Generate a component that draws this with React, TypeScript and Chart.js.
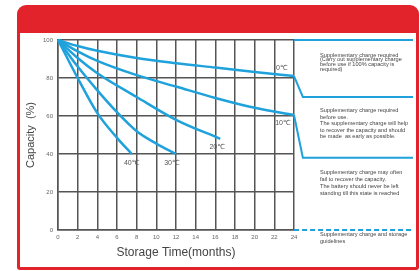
import React, { useEffect, useRef } from 'react';
import { Chart, registerables } from 'chart.js';

Chart.register(...registerables);

// ---- data ----
const MONTHS_0C = [0, 2, 4, 8, 12, 16, 20, 24];
const CAP_0C = [100, 96.8, 94.3, 90.5, 87.8, 85.5, 83.2, 81];
const MONTHS_10C = [0, 2, 4, 8, 12, 16, 20, 24];
const CAP_10C = [100, 94, 89, 81.5, 75.5, 69.5, 64.3, 60.5];
const MONTHS_20C = [0, 2, 4, 8, 12, 16.5];
const CAP_20C = [100, 90.5, 82.5, 70, 58, 48];
const MONTHS_30C = [0, 2, 4, 6, 8, 10, 12];
const CAP_30C = [100, 86, 73.5, 62, 52, 45.5, 40];
const MONTHS_40C = [0, 2, 4, 6, 7.5];
const CAP_40C = [100, 80, 61.5, 48.5, 40];
const CURVE_LABELS = ['0℃', '10℃', '20℃', '30℃', '40℃'];

const TAIL_0C_X = [24, 24.9, 36.1];
const TAIL_0C_Y = [81, 70, 70];
const TAIL_10C_X = [24, 24.9, 36.1];
const TAIL_10C_Y = [60.5, 38, 38];
const GUIDE_TOP_X = [24, 36.1];
const GUIDE_TOP_Y = [100, 100];
const GUIDE_BOTTOM_X = [24, 36.1];
const GUIDE_BOTTOM_Y = [0, 0];

const X_MIN = 0;
const X_MAX = 24;
const X_STEP = 2;
const Y_MIN = 0;
const Y_MAX = 100;
const Y_STEP = 20;

const X_TITLE = 'Storage Time(months)';
const Y_TITLE = 'Capacity  (%)';

const NOTE_1 = [
  'Supplementary charge required',
  '(Carry out supplementary charge',
  'before use if 100% capacity is',
  'required)',
];
const NOTE_2 = [
  'Supplementary charge required',
  'before use.',
  'The supplementary charge will help',
  'to recover the capacity and should',
  'be made  as early as possible.',
];
const NOTE_3 = [
  'Supplementary charge may often',
  'fail to recover the capacity.',
  'The battery should never be left',
  'standing till this state is reached',
];
const NOTE_4 = ['Supplementary charge and storage', 'guidelines'];

const pts = (xs: number[], ys: number[]) => xs.map((x, i) => ({ x, y: ys[i] }));

const BLUE = '#1fa2dc';
const RED = '#e3232b';
const GRID = '#555555';

const framePlugin = {
  id: 'frame',
  beforeDraw(chart: any) {
    const ctx = chart.ctx;
    ctx.save();
    ctx.fillStyle = '#ffffff';
    ctx.fillRect(0, 0, chart.width, chart.height);
    ctx.fillStyle = RED;
    ctx.beginPath();
    ctx.roundRect(17, 5, 402, 265, [9, 9, 3, 3]);
    ctx.fill();
    ctx.fillStyle = '#ffffff';
    ctx.fillRect(20, 33, 396, 234);
    ctx.restore();
  },
};

const notesPlugin = {
  id: 'notes',
  afterDraw(chart: any) {
    const ctx = chart.ctx;
    ctx.save();
    // curve labels, anchored to each curve's last point
    const offsets = [
      [-12, -8],
      [-11, 8],
      [-3, 8],
      [-4, 9],
      [0, 9],
    ];
    ctx.font = '7px "Liberation Sans", "DejaVu Sans", sans-serif';
    ctx.fillStyle = '#555';
    ctx.textAlign = 'center';
    ctx.textBaseline = 'middle';
    for (let i = 0; i < 5; i++) {
      const meta = chart.getDatasetMeta(i);
      const last = meta.data[meta.data.length - 1];
      ctx.fillText(CURVE_LABELS[i], last.x + offsets[i][0], last.y + offsets[i][1]);
    }
    // side notes
    ctx.font = '5.6px "Liberation Sans", sans-serif';
    ctx.fillStyle = '#444';
    ctx.textAlign = 'left';
    const block = (lines: string[], x: number, y0: number, dy: number) => {
      lines.forEach((l, i) => ctx.fillText(l, x, y0 + i * dy));
    };
    block(NOTE_1, 320, 55, 4.8);
    block(NOTE_2, 320, 110.5, 6.5);
    block(NOTE_3, 320, 172, 7.2);
    block(NOTE_4, 320, 234.5, 6.5);
    ctx.restore();
  },
};

export default function App() {
  const ref = useRef<HTMLCanvasElement>(null);
  useEffect(() => {
    const curve = (data: any) => ({
      data,
      borderColor: BLUE,
      borderWidth: 2.5,
      pointRadius: 0,
      tension: 0.4,
      cubicInterpolationMode: 'monotone',
      fill: false,
      clip: false,
    });
    const tail = (data: any, dash: number[] = []) => ({
      data,
      borderColor: BLUE,
      borderWidth: 2,
      pointRadius: 0,
      tension: 0,
      fill: false,
      clip: false,
      borderDash: dash,
    });
    const chart = new Chart(ref.current!, {
      type: 'line',
      data: {
        datasets: [
          curve(pts(MONTHS_0C, CAP_0C)),
          curve(pts(MONTHS_10C, CAP_10C)),
          curve(pts(MONTHS_20C, CAP_20C)),
          curve(pts(MONTHS_30C, CAP_30C)),
          curve(pts(MONTHS_40C, CAP_40C)),
          tail(pts(TAIL_0C_X, TAIL_0C_Y)),
          tail(pts(TAIL_10C_X, TAIL_10C_Y)),
          tail(pts(GUIDE_TOP_X, GUIDE_TOP_Y)),
          tail(pts(GUIDE_BOTTOM_X, GUIDE_BOTTOM_Y), [5, 3]),
        ] as any,
      },
      options: {
        animation: false,
        responsive: false,
        layout: { padding: { left: 0, top: 40, right: 126, bottom: 0 } },
        plugins: { legend: { display: false }, tooltip: { enabled: false } },
        scales: {
          x: {
            type: 'linear',
            min: X_MIN,
            afterDataLimits: (s: any) => {
              s.max = X_MAX;
            },
            afterFit: (s: any) => {
              s.height = 41;
            },
            ticks: {
              stepSize: X_STEP,
              padding: 4,
              color: '#666',
              font: { size: 6, family: '"Liberation Sans", sans-serif' },
              maxRotation: 0,
            },
            grid: { color: GRID, lineWidth: 1.5, drawTicks: false },
            border: { color: GRID, width: 1.5 },
            title: {
              display: true,
              text: X_TITLE,
              color: '#444',
              font: { size: 12, family: '"Liberation Sans", sans-serif' },
              padding: { top: 0, bottom: 11 },
            },
          },
          y: {
            min: Y_MIN,
            max: Y_MAX,
            afterFit: (s: any) => {
              s.width = 58;
            },
            ticks: {
              stepSize: Y_STEP,
              padding: 5,
              color: '#666',
              font: { size: 6, family: '"Liberation Sans", sans-serif' },
            },
            grid: { color: GRID, lineWidth: 1.5, drawTicks: false },
            border: { color: GRID, width: 1.5 },
            title: {
              display: true,
              text: Y_TITLE,
              color: '#444',
              font: { size: 11, family: '"Liberation Sans", sans-serif' },
              padding: { top: 24, bottom: 0 },
            },
          },
        },
      } as any,
      plugins: [framePlugin, notesPlugin],
    });
    return () => chart.destroy();
  }, []);
  return (
    <div style={{ position: 'absolute', left: 0, top: 0, width: 420, height: 271 }}>
      <canvas ref={ref} width={420} height={271} />
    </div>
  );
}
